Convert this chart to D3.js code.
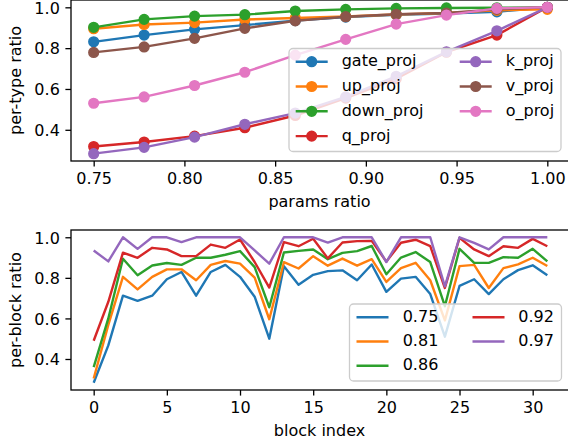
<!DOCTYPE html>
<html>
<head>
<meta charset="utf-8">
<script src="https://cdn.jsdelivr.net/npm/d3@7"></script>
<style>
	body { margin: 0; background: #fff; }
	svg { display: block; }
	text { font-family: "DejaVu Sans", sans-serif; }
</style>
</head>
<body>
<div id="chart"></div>
<script>

// top panel: per-type ratio vs params ratio
var paramsRatio = [0.75, 0.7778, 0.8056, 0.8333, 0.8611, 0.8889, 0.9167, 0.9444, 0.9722, 1.0]
var typeNames = ["gate_proj", "up_proj", "down_proj", "q_proj", "k_proj", "v_proj", "o_proj"]
var gateProj = [0.831, 0.864, 0.892, 0.913, 0.935, 0.952, 0.963, 0.970, 0.978, 1.0]
var upProj   = [0.895, 0.916, 0.925, 0.940, 0.948, 0.955, 0.965, 0.972, 0.985, 0.99]
var downProj = [0.902, 0.941, 0.957, 0.964, 0.982, 0.990, 0.995, 0.997, 0.998, 1.0]
var qProj    = [0.318, 0.340, 0.369, 0.410, 0.470, 0.555, 0.650, 0.780, 0.864, 1.0]
var kProj    = [0.283, 0.314, 0.364, 0.427, 0.482, 0.561, 0.662, 0.782, 0.885, 1.0]
var vProj    = [0.779, 0.806, 0.848, 0.897, 0.934, 0.954, 0.966, 0.972, 0.990, 1.0]
var oProj    = [0.530, 0.561, 0.617, 0.682, 0.766, 0.843, 0.918, 0.962, 0.995, 1.0]
var typeSeries = [gateProj, upProj, downProj, qProj, kProj, vProj, oProj]

// bottom panel: per-block ratio for a few params ratios
var blockNames = ["0.75", "0.81", "0.86", "0.92", "0.97"]
var block075 = [0.283, 0.467, 0.712, 0.687, 0.712, 0.793, 0.829, 0.712, 0.829, 0.864, 0.805, 0.707, 0.500, 0.857, 0.766, 0.815,
	0.833, 0.837, 0.788, 0.866, 0.731, 0.796, 0.805, 0.720, 0.510, 0.760, 0.793, 0.720, 0.793, 0.838, 0.862, 0.813]
var block081 = [0.304, 0.568, 0.805, 0.743, 0.805, 0.842, 0.842, 0.788, 0.864, 0.883, 0.870, 0.801, 0.596, 0.877, 0.846, 0.907,
	0.860, 0.895, 0.860, 0.892, 0.780, 0.848, 0.874, 0.788, 0.590, 0.858, 0.864, 0.750, 0.848, 0.866, 0.899, 0.858]
var block086 = [0.360, 0.600, 0.894, 0.813, 0.861, 0.873, 0.864, 0.899, 0.899, 0.914, 0.932, 0.853, 0.655, 0.925, 0.933, 0.940,
	0.892, 0.923, 0.932, 0.957, 0.818, 0.900, 0.927, 0.878, 0.660, 0.943, 0.874, 0.874, 0.902, 0.899, 0.943, 0.881]
var block092 = [0.490, 0.682, 0.924, 0.899, 0.948, 0.940, 0.907, 0.907, 0.964, 0.948, 0.989, 0.878, 0.752, 0.976, 0.956, 0.993,
	0.896, 0.974, 0.981, 0.982, 0.880, 0.973, 0.988, 0.956, 0.750, 0.997, 0.940, 0.907, 0.956, 0.948, 0.992, 0.956]
var block097 = [0.935, 0.881, 1.0, 0.943, 1.0, 1.0, 0.976, 1.0, 1.0, 1.0, 1.0, 0.935, 0.870, 1.0, 1.0, 1.0,
	0.974, 1.0, 1.0, 1.0, 0.878, 1.0, 1.0, 1.0, 0.758, 1.0, 0.972, 0.940, 1.0, 1.0, 1.0, 1.0]
var blockSeries = [block075, block081, block086, block092, block097]

var topXTicks = [0.75, 0.80, 0.85, 0.90, 0.95, 1.00]
var ratioTicks = [0.4, 0.6, 0.8, 1.0]
var blockTicks = [0, 5, 10, 15, 20, 25, 30]

var colors = ["#1f77b4", "#ff7f0e", "#2ca02c", "#d62728", "#9467bd", "#8c564b", "#e377c2"]

var W = 568, H = 444
var FS = 16
var tickLen = 5.6, tickPad = 5.6

var svg = d3.select("#chart").append("svg")
	.attr("width", W)
	.attr("height", H)

// matplotlib style 5% margins
function padded(lo, hi){
	var m = (hi - lo) * 0.05
	return [lo - m, hi + m]
}

var left = 71, right = 570
var topBox = {top: 0, bottom: 161}
var botBox = {top: 230, bottom: 390}

var allType = _flat(typeSeries)
var allBlock = _flat(blockSeries)
function _flat(arr){ return [].concat.apply([], arr) }

var x1 = d3.scaleLinear().domain(padded(d3.min(paramsRatio), d3.max(paramsRatio))).range([left, right])
var y1 = d3.scaleLinear().domain(padded(d3.min(allType), d3.max(allType))).range([topBox.bottom, topBox.top])

var blockIdx = d3.range(block075.length)
var x2 = d3.scaleLinear().domain(padded(0, blockIdx.length - 1)).range([left, right])
var y2 = d3.scaleLinear().domain(padded(d3.min(allBlock), d3.max(allBlock))).range([botBox.bottom, botBox.top])

function drawAxes(g, xs, ys, box, xticks, xfmt, yticks, xlabel, ylabel){

	var xAxis = g.append("g")
		.attr("transform", "translate(0," + box.bottom + ")")
		.call(d3.axisBottom(xs).tickValues(xticks).tickFormat(xfmt).tickSize(tickLen).tickPadding(tickPad))
	var yAxis = g.append("g")
		.attr("transform", "translate(" + left + ",0)")
		.call(d3.axisLeft(ys).tickValues(yticks).tickFormat(d3.format(".1f")).tickSize(tickLen).tickPadding(tickPad))

	;[xAxis, yAxis].forEach(function(a){
		a.select(".domain").remove()
		a.selectAll(".tick line").attr("stroke", "#000").attr("stroke-width", 1.3)
		a.selectAll(".tick text").attr("fill", "#000").style("font-size", FS + "px")
	})
	xAxis.selectAll(".tick text").attr("dy", null).attr("y", tickLen + tickPad + 12.2)
	yAxis.selectAll(".tick text").attr("dy", "0.36em")

	// frame
	g.append("rect")
		.attr("x", left)
		.attr("y", box.top)
		.attr("width", right - left)
		.attr("height", box.bottom - box.top)
		.attr("fill", "none")
		.attr("stroke", "#000")
		.attr("stroke-width", 1.3)

	g.append("text")
		.attr("x", (left + right) / 2 - 1)
		.attr("y", box.bottom + tickLen + tickPad + 12.2 + 3.8 + 6.4 + 12.2)
		.attr("text-anchor", "middle")
		.style("font-size", FS + "px")
		.text(xlabel)

	g.append("text")
		.attr("transform", "translate(21," + ((box.top + box.bottom) / 2) + ") rotate(-90)")
		.attr("text-anchor", "middle")
		.style("font-size", FS + "px")
		.text(ylabel)
}

function drawLegend(g, box, names, rowY, colHandle, colText, markers){
	g.append("rect")
		.attr("x", box.x)
		.attr("y", box.y)
		.attr("width", box.w)
		.attr("height", box.h)
		.attr("rx", 4)
		.attr("fill", "#fff")
		.attr("fill-opacity", 0.8)
		.attr("stroke", "#cccccc")
		.attr("stroke-width", 1.3)

	var nRows = rowY.length
	names.forEach(function(name, i){
		var col = Math.floor(i / nRows), row = i % nRows
		var cy = rowY[row], cx = colHandle[col]
		g.append("line")
			.attr("x1", cx - 16).attr("x2", cx + 16)
			.attr("y1", cy).attr("y2", cy)
			.attr("stroke", colors[i])
			.attr("stroke-width", 2.4)
		if(markers){
			g.append("circle")
				.attr("cx", cx).attr("cy", cy).attr("r", 4.8)
				.attr("fill", colors[i]).attr("stroke", colors[i]).attr("stroke-width", 1.6)
		}
		g.append("text")
			.attr("x", colText[col])
			.attr("y", cy + 4.6)
			.style("font-size", FS + "px")
			.text(name)
	})
}

// ---- top panel
var gTop = svg.append("g")

typeSeries.forEach(function(vals, i){
	var pts = paramsRatio.map(function(x, j){ return [x, vals[j]] })
	var s = gTop.append("g")
	s.append("path")
		.attr("d", d3.line().x(function(d){ return x1(d[0]) }).y(function(d){ return y1(d[1]) })(pts))
		.attr("fill", "none")
		.attr("stroke", colors[i])
		.attr("stroke-width", 2.4)
		.attr("stroke-linejoin", "round")
	s.selectAll("circle")
		.data(pts)
		.enter()
		.append("circle")
		.attr("cx", function(d){ return x1(d[0]) })
		.attr("cy", function(d){ return y1(d[1]) })
		.attr("r", 4.8)
		.attr("fill", colors[i])
		.attr("stroke", colors[i])
		.attr("stroke-width", 1.6)
})

drawAxes(gTop, x1, y1, topBox, topXTicks, d3.format(".2f"), ratioTicks, "params ratio", "per-type ratio")
drawLegend(gTop, {x: 289, y: 48.5, w: 272, h: 103}, typeNames, [61.7, 86.5, 111.3, 136.1], [311.7, 475.7], [341.7, 505.7], true)

// ---- bottom panel
var gBot = svg.append("g")

blockSeries.forEach(function(vals, i){
	gBot.append("path")
		.attr("d", d3.line().x(function(d, j){ return x2(j) }).y(function(d){ return y2(d) })(vals))
		.attr("fill", "none")
		.attr("stroke", colors[i])
		.attr("stroke-width", 2.4)
		.attr("stroke-linejoin", "round")
})

drawAxes(gBot, x2, y2, botBox, blockTicks, d3.format("d"), ratioTicks, "block index", "per-block ratio")
drawLegend(gBot, {x: 349.5, y: 304, w: 212, h: 77}, blockNames, [317.3, 341.5, 365.7], [372.5, 488.5], [402.7, 518.3], false)

</script>
</body>
</html>
